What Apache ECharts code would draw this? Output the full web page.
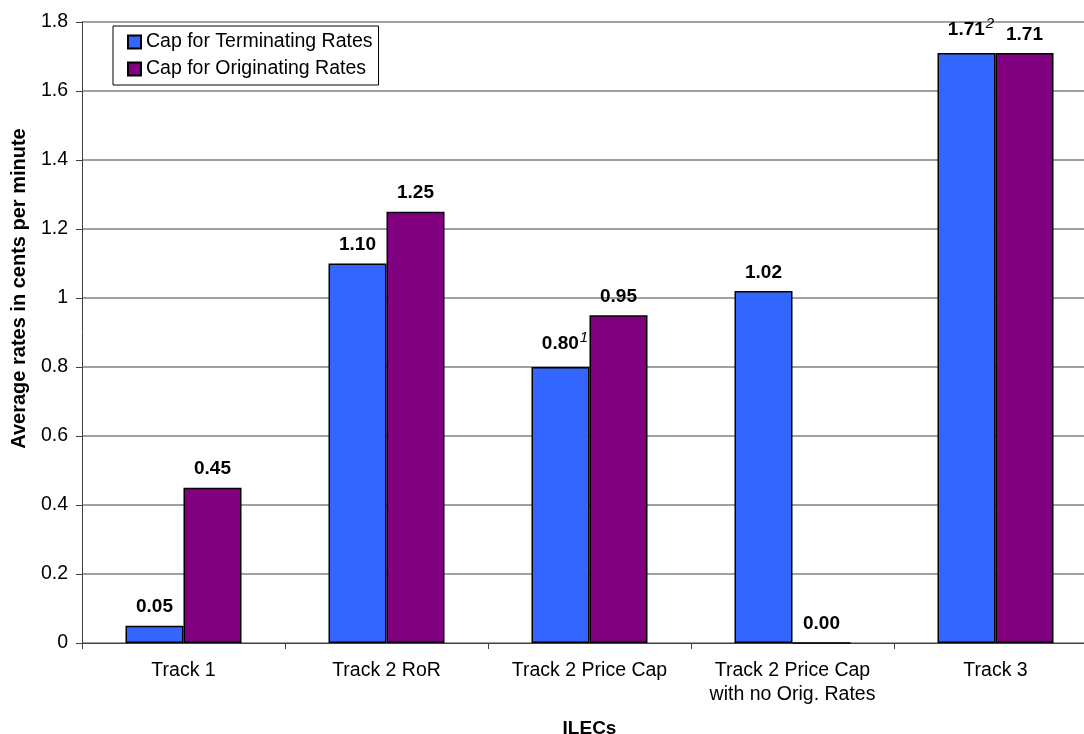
<!DOCTYPE html>
<html>
<head>
<meta charset="utf-8">
<script src="https://cdn.jsdelivr.net/npm/echarts@6/dist/echarts.min.js"></script>
<style>
  html, body { margin: 0; padding: 0; background: #fff; }
  #chart { width: 1084px; height: 734px; }
</style>
</head>
<body>
<div id="chart"></div>
<script>
// data
var categories = ['Track 1', 'Track 2 RoR', 'Track 2 Price Cap', 'Track 2 Price Cap\nwith no Orig. Rates', 'Track 3'];
var terminating = [0.05, 1.10, 0.80, 1.02, 1.71];
var originating = [0.45, 1.25, 0.95, 0.00, 1.71];
var termNotes = ['', '', '1', '', '2'];   // footnote marks next to the labels
var yTicks = { min: 0, max: 1.8, step: 0.2 };

var font = 'Liberation Sans, Arial, sans-serif';

function labelFmt(notes) {
    return function (p) {
        var txt = p.value.toFixed(2);
        var n = notes ? notes[p.dataIndex] : '';
        if (n) return '{e|}{v|' + txt + '}{s|' + n + '}';
        return '{v|' + txt + '}';
    };
}

var rich = {
    v: { fontSize: 19, fontWeight: 'bold', color: '#000', fontFamily: font },
    s: { fontSize: 15, fontStyle: 'italic', fontWeight: 'normal', color: '#000', fontFamily: font, padding: [0, 0, 13, 1] },
    e: { width: 9 }
};

var myChart = echarts.init(document.getElementById('chart'));

var option = {
    animation: false,
    backgroundColor: '#fff',
    textStyle: { fontFamily: font },
    grid: { left: 82, right: -13, top: 22, bottom: 91, containLabel: false, outerBoundsMode: 'none' },
    legend: {
        orient: 'vertical',
        left: 113,
        top: 26,
        icon: 'rect',
        itemWidth: 13,
        itemHeight: 13,
        itemGap: 7,
        padding: [6, 6, 6, 14],
        borderColor: '#000',
        borderWidth: 1,
        backgroundColor: '#fff',
        textStyle: { fontSize: 19.5, color: '#000', fontFamily: font },
        data: ['Cap for Terminating Rates', 'Cap for Originating Rates']
    },
    xAxis: {
        type: 'category',
        data: categories,
        name: 'ILECs',
        nameLocation: 'middle',
        nameGap: 76,
        nameTextStyle: { fontSize: 19, fontWeight: 'bold', color: '#000', fontFamily: font },
        axisLine: { lineStyle: { color: '#404040', width: 1 } },
        axisTick: { show: true, interval: 0, length: 6, lineStyle: { color: '#404040' } },
        axisLabel: { interval: 0, fontSize: 19.5, color: '#000', margin: 16, lineHeight: 24, fontFamily: font }
    },
    yAxis: {
        type: 'value',
        min: yTicks.min,
        max: yTicks.max,
        interval: yTicks.step,
        name: 'Average rates in cents per minute',
        nameLocation: 'middle',
        nameGap: 53,
        nameTextStyle: { fontSize: 20, fontWeight: 'bold', color: '#000', fontFamily: font, padding: [0, 0, 0, 88] },
        axisLine: { show: true, lineStyle: { color: '#404040', width: 1 } },
        axisTick: { show: true, length: 6, lineStyle: { color: '#404040' } },
        axisLabel: { fontSize: 19.5, color: '#000', margin: 14, fontFamily: font },
        splitLine: { lineStyle: { color: '#808080', width: 1.5 } }
    },
    series: [
        {
            name: 'Cap for Terminating Rates',
            type: 'bar',
            data: terminating,
            barWidth: 58,
            barGap: '0%',
            itemStyle: { color: '#3366FF', borderColor: '#000', borderWidth: 1.5 },
            label: { show: true, position: 'top', distance: 9, formatter: labelFmt(termNotes), rich: rich }
        },
        {
            name: 'Cap for Originating Rates',
            type: 'bar',
            data: originating,
            barWidth: 58,
            barGap: '0%',
            itemStyle: { color: '#800080', borderColor: '#000', borderWidth: 1.5 },
            label: { show: true, position: 'top', distance: 9, formatter: labelFmt(null), rich: rich }
        }
    ]
};

myChart.setOption(option);
</script>
</body>
</html>
